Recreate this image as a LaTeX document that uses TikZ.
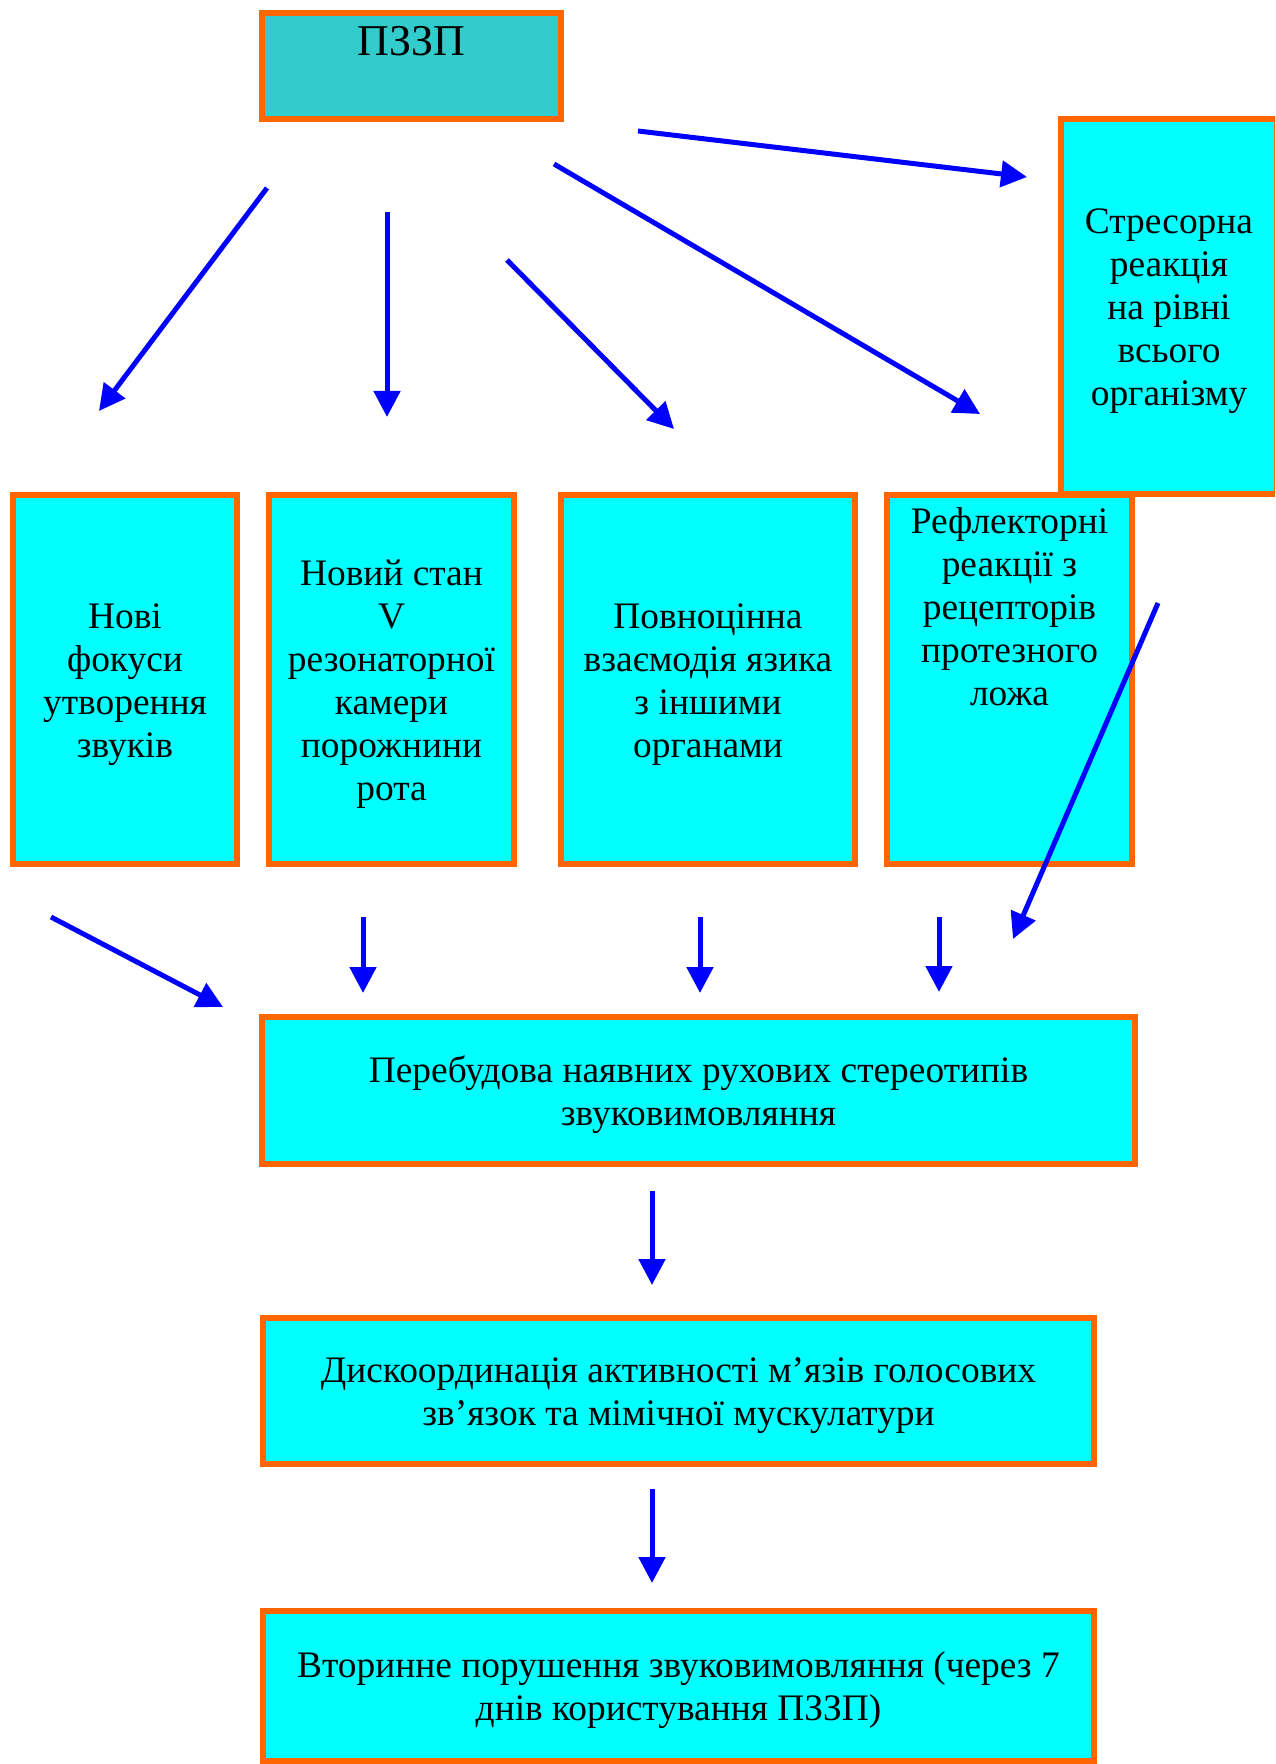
\documentclass[tikz,border=0pt]{standalone}
\usepackage{fontspec}
\setmainfont{Liberation Serif}
\usetikzlibrary{arrows.meta}
\definecolor{boxfill}{HTML}{00FFFF}
\definecolor{topfill}{HTML}{33CCCC}
\definecolor{edgeor}{HTML}{FF6600}
\definecolor{arrblue}{HTML}{0000FF}
\newcommand\tfirst{\rule{0pt}{17.5pt}}
\newcommand\tlast{\rule[-4pt]{0pt}{4pt}}
\begin{document}
\begin{tikzpicture}[x=0.5pt,y=-0.5pt,
  box/.style={draw=edgeor, line width=3pt, fill=boxfill, inner sep=0pt,
    align=center, font=\fontsize{18.7}{21.5}\selectfont},
  txt/.style={inner sep=0pt, align=center, font=\fontsize{18.7}{21.5}\selectfont},
  arrline/.style={draw=arrblue, line width=2.5pt, -{Triangle[length=13pt,width=13pt]}}]
\clip (0,0) rectangle (1275,1764);
\fill[white] (0,0) rectangle (1275,1764);
% top box
\node[box, fill=topfill, minimum width=149.5pt, minimum height=53pt] (pzzp) at (411.5,66) {};
\node[txt, anchor=base, font=\fontsize{22}{25}\selectfont] (pzzpt) at (411.5,56) {ПЗЗП};
% stress box
\node[box, minimum width=108pt, minimum height=187.5pt] (stres) at (1169,306.5)
  {\tfirst Стресорна\\реакція\\на рівні\\всього\\організму\tlast};
% row of boxes
\node[box, minimum width=112pt, minimum height=184.5pt] (b1) at (125,679.5)
  {\tfirst Нові\\фокуси\\утворення\\звуків\tlast};
\node[box, minimum width=122.5pt, minimum height=184.5pt] (b2) at (391.5,679.5)
  {\tfirst Новий стан\\V\\резонаторної\\камери\\порожнини\\рота\tlast};
\node[box, minimum width=147pt, minimum height=184.5pt] (b3) at (708,679.5)
  {\tfirst Повноцінна\\взаємодія язика\\з іншими\\органами\tlast};
\node[box, minimum width=122.5pt, minimum height=184.5pt] (b4) at (1009.5,679.5) {};
\node[txt, anchor=north] (b4t) at (1009.5,507)
  {Рефлекторні\\реакції з\\рецепторів\\протезного\\ложа};
% lower boxes
\node[box, minimum width=436.5pt, minimum height=73.5pt] (per) at (698.5,1090.5)
  {\tfirst Перебудова наявних рухових стереотипів\\звуковимовляння\tlast};
\node[box, minimum width=415.5pt, minimum height=73pt] (disk) at (678.5,1391)
  {\tfirst Дискоординація активності м’язів голосових\\зв’язок та мімічної мускулатури\tlast};
\node[box, minimum width=415.5pt, minimum height=75pt] (vtor) at (678.5,1686)
  {\tfirst Вторинне порушення звуковимовляння (через 7\\днів користування ПЗЗП)\tlast};
% arrow end points
\coordinate (a1s) at (267,188);  \coordinate (a1e) at (99,411);
\coordinate (a2s) at (387,212);  \coordinate (a2e) at (387,417);
\coordinate (a3s) at (507,260);  \coordinate (a3e) at (674,429);
\coordinate (a4s) at (554,164);  \coordinate (a4e) at (980,414);
\coordinate (a5s) at (638,131);  \coordinate (a5e) at (1027,177);
\coordinate (a6s) at (1158,603); \coordinate (a6e) at (1013,939);
\coordinate (a7s) at (51,917);   \coordinate (a7e) at (223,1007);
\coordinate (a8s) at (363,917);  \coordinate (a8e) at (363,993);
\coordinate (a9s) at (700,917);  \coordinate (a9e) at (700,993);
\coordinate (a10s) at (939,917); \coordinate (a10e) at (939,992);
\coordinate (a11s) at (652,1191); \coordinate (a11e) at (652,1285);
\coordinate (a12s) at (652,1489); \coordinate (a12e) at (652,1583);
\foreach \i in {1,...,12} {\draw[arrline] (a\i s) -- (a\i e);}
\end{tikzpicture}
\end{document}
